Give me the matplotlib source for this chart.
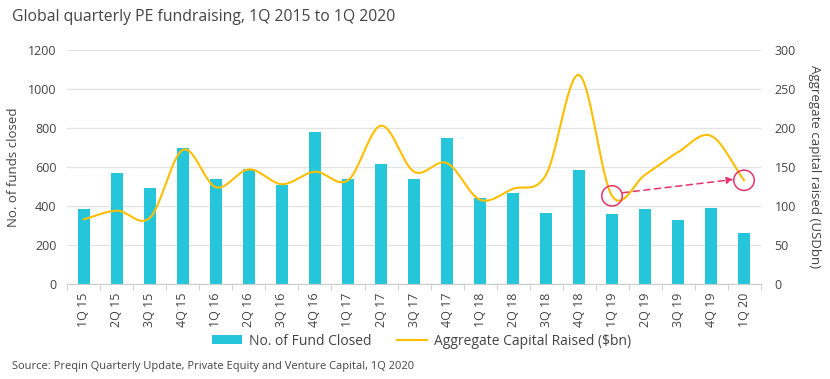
import numpy as np
import matplotlib
matplotlib.use("Agg")
import matplotlib.pyplot as plt
from matplotlib.patches import Ellipse

quarters = ["1Q 15", "2Q 15", "3Q 15", "4Q 15", "1Q 16", "2Q 16", "3Q 16", "4Q 16",
            "1Q 17", "2Q 17", "3Q 17", "4Q 17", "1Q 18", "2Q 18", "3Q 18", "4Q 18",
            "1Q 19", "2Q 19", "3Q 19", "4Q 19", "1Q 20"]
funds_closed = [385, 570, 490, 700, 540, 590, 510, 780, 540, 615, 540, 750,
                440, 465, 365, 585, 360, 385, 330, 390, 260]
capital_raised = [83, 94, 85, 172, 124, 147, 128, 144, 133, 203, 144, 155,
                  108, 122, 140, 268, 113, 140, 169, 190, 133]

plt.rcParams['font.family'] = ['Open Sans', 'DejaVu Sans']
TXT = '#444444'
BAR = '#26C6DA'
LINE = '#FFBE00'
RED = '#E8336A'

def catmull_rom(x, y, n=20):
    x = np.asarray(x, float); y = np.asarray(y, float)
    px = np.concatenate([[2*x[0]-x[1]], x, [2*x[-1]-x[-2]]])
    py = np.concatenate([[2*y[0]-y[1]], y, [2*y[-1]-y[-2]]])
    xs, ys = [], []
    t = np.linspace(0, 1, n, endpoint=False)
    for i in range(1, len(px)-2):
        for arr, out in ((px, xs), (py, ys)):
            p0, p1, p2, p3 = arr[i-1], arr[i], arr[i+1], arr[i+2]
            out.extend(0.5*((2*p1) + (-p0+p2)*t + (2*p0-5*p1+4*p2-p3)*t**2 + (-p0+3*p1-3*p2+p3)*t**3))
    xs.append(x[-1]); ys.append(y[-1])
    return np.array(xs), np.array(ys)

fig = plt.figure(figsize=(8.3, 3.79), dpi=100)
ax = fig.add_axes([0.0813, 0.2507, 0.835, 0.6173])
ax2 = ax.twinx()

x = np.arange(len(quarters))
ax.bar(x, funds_closed, width=0.34, color=BAR, zorder=2, label="No. of Fund Closed")
ax.set_ylim(0, 1200)
ax.set_yticks(range(0, 1201, 200))
ax.set_xlim(-0.5, len(quarters)-0.5)
ax.set_xticks(x)
ax.set_xticklabels(quarters, rotation=90, fontsize=9, color=TXT)
ax.set_xticks(np.arange(-0.5, len(quarters), 1), minor=True)
ax.tick_params(axis='x', which='major', length=0, pad=6)
ax.tick_params(axis='x', which='minor', length=4, color='#cccccc')
ax.tick_params(axis='y', length=0, labelsize=9, labelcolor=TXT, pad=8)
ax.grid(axis='y', color='#e3e3e3', linewidth=0.9, zorder=0)
ax.set_axisbelow(True)
for s in ['top', 'right', 'left']:
    ax.spines[s].set_visible(False)
ax.spines['bottom'].set_color('#cccccc')
ax.set_ylabel("No. of funds closed", fontsize=9.5, color=TXT, labelpad=6)

sx, sy = catmull_rom(x, capital_raised)
ax2.plot(sx, sy, color=LINE, linewidth=1.5, zorder=3, label="Aggregate Capital Raised ($bn)")
ax2.set_ylim(0, 300)
ax2.set_yticks(range(0, 301, 50))
ax2.tick_params(axis='y', length=0, labelsize=9, labelcolor=TXT, pad=10)
for s in ['top', 'right', 'left', 'bottom']:
    ax2.spines[s].set_visible(False)
ax2.set_ylabel("Aggregate capital raised (USDbn)", fontsize=9.5, color=TXT, rotation=270, labelpad=18)

# highlight circles and dashed arrow
i1, i2 = 16, 20
for i in (i1, i2):
    ax2.add_patch(Ellipse((x[i], capital_raised[i]), width=0.62, height=26,
                          fill=False, edgecolor=RED, linewidth=1.1, zorder=4))
ax2.annotate("", xy=(x[i2]-0.32, capital_raised[i2]+1), xytext=(x[i1]+0.32, capital_raised[i1]+4),
             arrowprops=dict(arrowstyle='-|>', color=RED, linestyle=(0, (4, 3)), linewidth=1.1,
                             mutation_scale=10, shrinkA=0, shrinkB=0), zorder=4)

h1, l1 = ax.get_legend_handles_labels()
h2, l2 = ax2.get_legend_handles_labels()
fig.legend(h1+h2, l1+l2, loc='center', bbox_to_anchor=(0.508, 0.1), ncol=2, frameon=False,
           fontsize=10, labelcolor=TXT, handlelength=2.2, handleheight=0.6, columnspacing=1.8,
           handletextpad=0.5)

fig.text(0.0145, 0.955, "Global quarterly PE fundraising, 1Q 2015 to 1Q 2020", fontsize=11.3, color=TXT,
         va='center', ha='left')
fig.text(0.0145, 0.032, "Source: Preqin Quarterly Update, Private Equity and Venture Capital, 1Q 2020",
         fontsize=8, color=TXT, va='center', ha='left')

fig.savefig("out.png", dpi=100)
